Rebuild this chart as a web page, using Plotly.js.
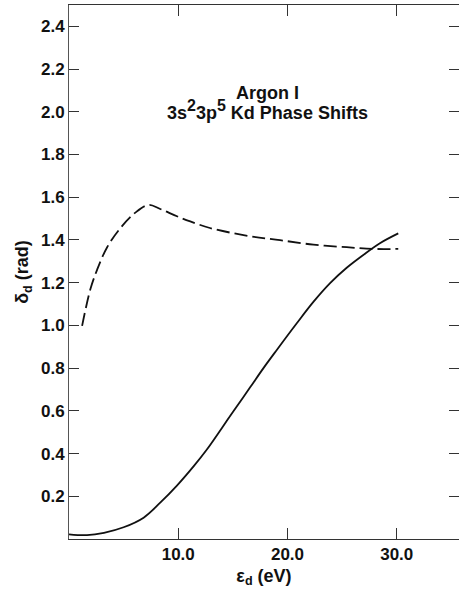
<!DOCTYPE html>
<html>
<head>
<meta charset="utf-8">
<script src="https://cdn.plot.ly/plotly-3.0.1.min.js"></script>
<style>html,body{margin:0;padding:0;background:#fff;}#chart{width:459px;height:590px;}</style>
</head>
<body>
<div id="chart"></div>
<script>
// Solid curve (lower)
const solidE = [0, 1.65, 3.2, 5.0, 6.83, 8.35, 9.88, 11.4, 12.62, 14.0, 15.05, 16.58, 17.8, 19.02, 20.85, 22.37, 23.9, 25.42, 26.94, 28.46, 30.14];
const solidDelta = [0.022, 0.018, 0.029, 0.055, 0.10, 0.17, 0.25, 0.34, 0.419, 0.52, 0.598, 0.71, 0.80, 0.885, 1.01, 1.11, 1.198, 1.27, 1.33, 1.385, 1.431];
// Dashed curve (upper)
const dashE = [1.2, 1.96, 2.57, 3.48, 4.7, 6.07, 7.29, 8.35, 9.88, 11.1, 12.9, 16.6, 19.32, 22.37, 25.42, 27.85, 30.14];
const dashDelta = [0.998, 1.17, 1.26, 1.365, 1.455, 1.528, 1.564, 1.545, 1.511, 1.487, 1.456, 1.417, 1.399, 1.378, 1.366, 1.358, 1.358];
// Ticks
const xTickVals = [10, 20, 30];
const xTickText = ["10.0", "20.0", "30.0"];
const yTickVals = [0.2, 0.4, 0.6, 0.8, 1.0, 1.2, 1.4, 1.6, 1.8, 2.0, 2.2, 2.4];
const yTickText = ["0.2", "0.4", "0.6", "0.8", "1.0", "1.2", "1.4", "1.6", "1.8", "2.0", "2.2", "2.4"];

const fam = "Liberation Sans, Arial, sans-serif";
const ink = "#111";

const traces = [
  {x: solidE, y: solidDelta, mode: "lines", line: {color: ink, width: 1.8, shape: "spline", smoothing: 1}, showlegend: false, hoverinfo: "skip"},
  {x: dashE, y: dashDelta, mode: "lines", line: {color: ink, width: 1.8, shape: "spline", smoothing: 1, dash: "13px,5px"}, showlegend: false, hoverinfo: "skip"}
];

const layout = {
  width: 459, height: 590,
  margin: {l: 69, r: 0, t: 5, b: 51},
  paper_bgcolor: "#fff", plot_bgcolor: "#fff",
  font: {family: fam, color: ink, size: 17, weight: "bold"},
  showlegend: false,
  xaxis: {
    range: [0, 35.7], tickvals: xTickVals, ticktext: xTickText,
    ticks: "inside", ticklen: 11, tickwidth: 1, tickcolor: "#333",
    showline: true, linecolor: "#333", linewidth: 1, mirror: "ticks",
    showgrid: false, zeroline: false, automargin: false,
    tickfont: {family: fam, size: 17, weight: "bold", color: ink},
    title: {text: "ε<sub>d</sub> (eV)", font: {family: fam, size: 18, weight: "bold", color: ink}, standoff: 5}
  },
  yaxis: {
    range: [0, 2.5], tickvals: yTickVals, ticktext: yTickText,
    ticks: "inside", ticklen: 10, tickwidth: 1, tickcolor: "#333",
    showline: true, linecolor: "#555", linewidth: 1, mirror: "ticks",
    showgrid: false, zeroline: false, automargin: false,
    tickfont: {family: fam, size: 17, weight: "bold", color: ink},
    title: {text: "δ<sub>d</sub> (rad)", font: {family: fam, size: 18, weight: "bold", color: ink}, standoff: 7}
  },
  annotations: [
    {xref: "paper", yref: "paper", x: 0.51, y: 0.835, xanchor: "center", yanchor: "middle", showarrow: false,
     text: "Argon I", font: {family: fam, size: 18, weight: "bold", color: ink}},
    {xref: "paper", yref: "paper", x: 0.51, y: 0.803, xanchor: "center", yanchor: "middle", showarrow: false,
     text: "3s<sup><span style=\"font-size:16px\">2</span></sup>3p<sup><span style=\"font-size:16px\">5</span></sup> Kd Phase Shifts",
     font: {family: fam, size: 18, weight: "bold", color: ink}}
  ]
};

Plotly.newPlot("chart", traces, layout, {displayModeBar: false, staticPlot: true});
</script>
</body>
</html>
